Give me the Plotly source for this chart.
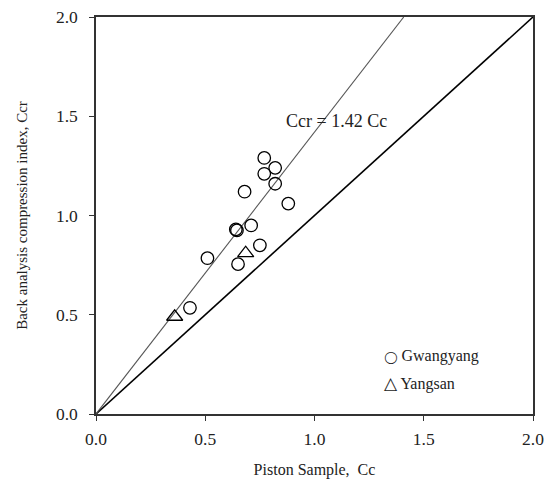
import plotly.graph_objects as go

# Compression index: piston sample (Cc) vs back-analysed (Ccr)
gw_cc = [0.77, 0.82, 0.77, 0.82, 0.68, 0.88, 0.64, 0.645, 0.71, 0.75, 0.51, 0.65, 0.43]
gw_ccr = [1.29, 1.24, 1.21, 1.16, 1.12, 1.06, 0.93, 0.925, 0.95, 0.85, 0.785, 0.755, 0.535]

ys_cc = [0.685, 0.36]
ys_ccr = [0.81, 0.49]

slope = 1.42
axis_ticks = [0.0, 0.5, 1.0, 1.5, 2.0]

FONT = "Liberation Serif, Times New Roman, serif"
TXT = "#222222"

fig = go.Figure()

# 1:1 line
fig.add_trace(go.Scatter(x=[0, 2], y=[0, 2], mode="lines",
                         line=dict(color="black", width=1.6), showlegend=False))
# regression line Ccr = 1.42 Cc
fig.add_trace(go.Scatter(x=[0, 2 / slope], y=[0, 2], mode="lines",
                         line=dict(color="#555555", width=1.1), showlegend=False))

fig.add_trace(go.Scatter(x=gw_cc, y=gw_ccr, mode="markers", name="Gwangyang",
                         marker=dict(symbol="circle-open", size=12.5, color="black",
                                     line=dict(width=1.3)), showlegend=False))
fig.add_trace(go.Scatter(x=ys_cc, y=ys_ccr, mode="markers", name="Yangsan",
                         marker=dict(symbol="triangle-up-open", size=14, color="black",
                                     line=dict(width=1.3)), showlegend=False))

axis_common = dict(range=[0, 2], tickvals=axis_ticks, tickformat=".1f",
                   showgrid=False, zeroline=False, showline=True, mirror=True,
                   linecolor="#333333", linewidth=1.5, ticks="outside",
                   ticklen=5, tickwidth=1.2, tickcolor="#333333",
                   tickfont=dict(family=FONT, size=17.5, color=TXT))

fig.update_xaxes(**axis_common, ticklabelstandoff=3,
                 title=dict(text="Piston Sample,  Cc", standoff=18,
                            font=dict(family=FONT, size=16, color=TXT)))
fig.update_yaxes(**axis_common, ticklabelstandoff=8,
                 title=dict(text="Back analysis compression index, Ccr", standoff=25,
                            font=dict(family=FONT, size=15, color=TXT)))

fig.add_annotation(x=1.099, y=1.478, text=f"Ccr = {slope:.2f} Cc", showarrow=False,
                   font=dict(family=FONT, size=18, color=TXT))

# legend entries
fig.add_annotation(x=1.31, y=0.294, xanchor="left", showarrow=False,
                   text="<span style='font-family:DejaVu Sans;font-size:12px'>◯</span> Gwangyang",
                   font=dict(family=FONT, size=16, color=TXT))
fig.add_annotation(x=1.31, y=0.153, xanchor="left", showarrow=False,
                   text="<span style='font-size:17px'>△</span> Yangsan",
                   font=dict(family=FONT, size=16, color=TXT))

fig.update_layout(width=551, height=479,
                  margin=dict(l=96, r=18, t=17, b=65, autoexpand=False),
                  plot_bgcolor="white", paper_bgcolor="white")

fig.write_html("out.html")
